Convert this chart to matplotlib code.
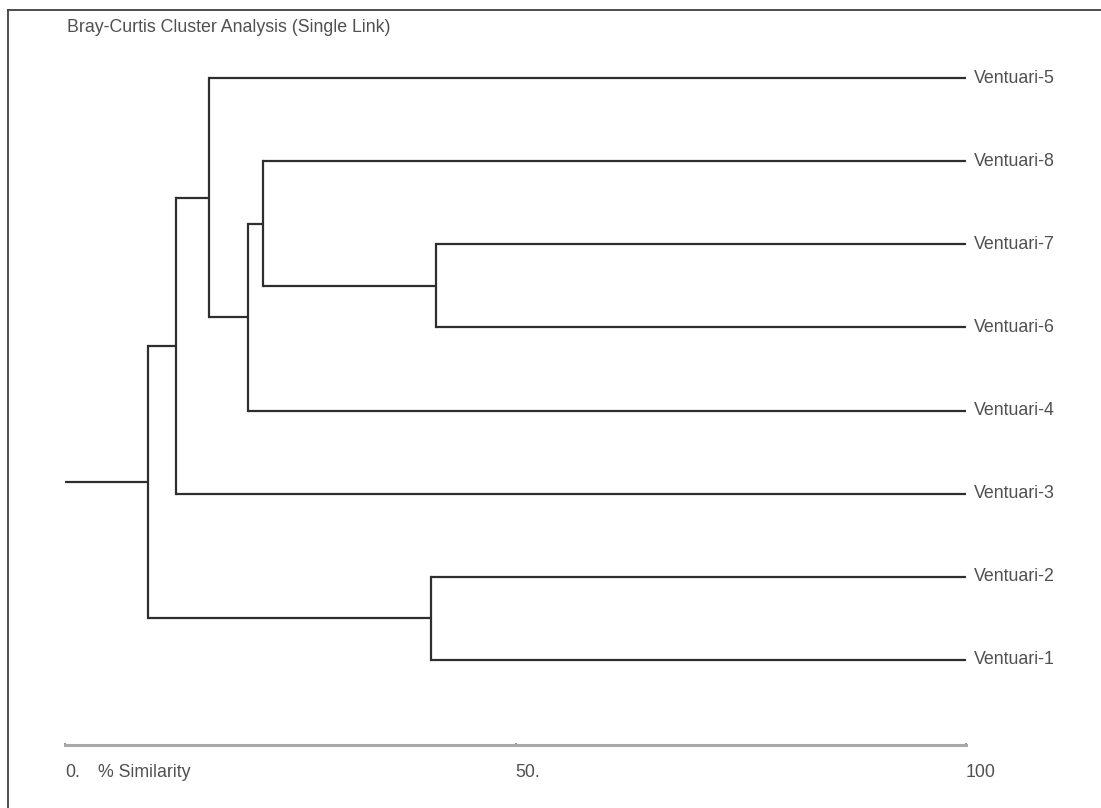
"""
Bray-Curtis single link dendrogram, redrawn with matplotlib.
"""

import matplotlib
matplotlib.use("Agg")
import matplotlib.pyplot as plt
from matplotlib.lines import Line2D

# leaves, top to bottom
leafLabels=["Ventuari-5","Ventuari-8","Ventuari-7","Ventuari-6",
            "Ventuari-4","Ventuari-3","Ventuari-2","Ventuari-1"]

# merges: (left, right, % similarity); ints are leaf indexes, "cN" is merge N
mergeLeft=[2,6,1,"c2",0,"c4","c5"]
mergeRight=[3,7,"c0",4,"c3",5,"c1"]
mergeSim=[41.2,40.6,22.0,20.3,16.0,12.3,9.25]

tickVals=[0,50,100]
tickLbls=["0.","50.","100"]

LINE_CLR="#2e2e2e"
TXT_CLR="#505050"
FONT="Liberation Sans"
FS=12.8

fig=plt.figure(figsize=(11.01,8.08),dpi=100)
W,H=1101,808
# axes spans pixel x 65..966 (0..100) and y 78..745 (leaf 0 .. axis)
ax=fig.add_axes([65/W,(H-745)/H,(966-65)/W,(745-78)/H])
nLeaf=len(leafLabels)
step=(660-78)/(nLeaf-1)
ax.set_xlim(0,100)
ax.set_ylim((745-78)/step,0)

# position of every node: (x, y)
pos={}
for i in range(nLeaf):
    pos[i]=(100.0,float(i))

lineKw=dict(color=LINE_CLR,lw=1.6,clip_on=False)
for m,(a,b,s) in enumerate(zip(mergeLeft,mergeRight,mergeSim)):
    xa,ya=pos[a];xb,yb=pos[b]
    ax.plot([s,s],[ya,yb],solid_capstyle="projecting",**lineKw)
    ax.plot([s,xa],[ya,ya],solid_capstyle="butt",**lineKw)
    ax.plot([s,xb],[yb,yb],solid_capstyle="butt",**lineKw)
    pos[f"c{m}"]=(s,(ya+yb)/2)

# root stub
rx,ry=pos[f"c{len(mergeSim)-1}"]
ax.plot([0,rx],[ry,ry],solid_capstyle="butt",**lineKw)

# leaf labels
for i,lbl in enumerate(leafLabels):
    ax.text(100.9,i,lbl,ha="left",va="center",fontsize=FS,color=TXT_CLR,family=FONT)

# similarity axis
for s in ["top","right","left"]:
    ax.spines[s].set_visible(False)
ax.spines["bottom"].set_color("#a8a8a8")
ax.spines["bottom"].set_linewidth(2.2)
ax.set_yticks([])
ax.set_xticks(tickVals)
ax.set_xticklabels(tickLbls,ha="left",fontsize=FS,color=TXT_CLR,family=FONT)
ax.tick_params(axis="x",length=3,width=1.2,color="#808080",direction="inout",pad=12)
ax.annotate("% Similarity",xy=(3.7,0),xycoords=("data","axes fraction"),
            xytext=(0,-19.5),textcoords="offset points",
            fontsize=FS,color=TXT_CLR,family=FONT,ha="left",va="center")

# title
fig.text(67/W,1-27/H,"Bray-Curtis Cluster Analysis (Single Link)",ha="left",va="center",
         fontsize=FS,color=TXT_CLR,family=FONT)

# frame: top and left only
fig.add_artist(Line2D([8/W,1],[1-10/H,1-10/H],transform=fig.transFigure,color="#404040",lw=1.3))
fig.add_artist(Line2D([8/W,8/W],[0,1-10/H],transform=fig.transFigure,color="#404040",lw=1.3))

fig.savefig("out.png",dpi=100,facecolor="white")
